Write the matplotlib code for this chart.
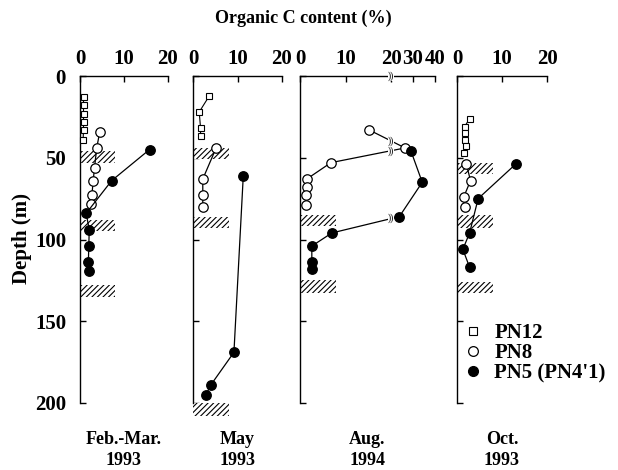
import numpy as np
import matplotlib
matplotlib.use("Agg")
import matplotlib.pyplot as plt
from matplotlib.lines import Line2D

plt.rcParams['font.family'] = ['Liberation Serif', 'DejaVu Serif']
plt.rcParams['font.weight'] = 'bold'
plt.rcParams['hatch.linewidth'] = 0.8

# ---------------- data ----------------
panel_titles = ["Feb.-Mar.\n1993", "May\n1993", "Aug.\n1994", "Oct.\n1993"]
series_names = ["PN12", "PN8", "PN5 (PN4'1)"]
depth_ticks = [0, 50, 100, 150, 200]

# Feb.-Mar. 1993
febmar_pn12_c = [0.8, 0.8, 0.8, 0.8, 0.8, 0.7]
febmar_pn12_d = [13, 18, 23, 28, 33, 39]
febmar_pn8_c = [4.5, 3.8, 3.3, 3.0, 2.7, 2.4]
febmar_pn8_d = [34, 44, 56, 64, 73, 78]
febmar_pn5_c = [15.8, 7.2, 1.4, 2.1, 2.0, 1.9, 2.1]
febmar_pn5_d = [45, 64, 84, 94, 104, 114, 119]
febmar_layers = [(46, 53), (88, 95), (128, 135)]

# May 1993
may_pn12_c = [3.7, 1.4, 1.7, 1.7]
may_pn12_d = [12, 22, 32, 37]
may_pn8_c = [5.2, 2.2, 2.2, 2.2]
may_pn8_d = [44, 63, 73, 80]
may_pn5_c = [11.3, 9.2, 4.0, 2.9]
may_pn5_d = [61, 169, 189, 195]
may_layers = [(44, 51), (86, 93), (200, 208)]

# Aug. 1994
aug_pn8_c = [15.2, 26.4, 6.8, 1.5, 1.5, 1.3, 1.3]
aug_pn8_d = [33, 44, 53, 63, 68, 73, 79]
aug_pn5_c = [29.1, 34.2, 23.8, 7.0, 2.6, 2.6, 2.6]
aug_pn5_d = [46, 65, 86, 96, 104, 114, 118]
aug_layers = [(85, 92), (125, 133)]

# Oct. 1993
oct_pn12_c = [2.8, 1.7, 1.7, 1.7, 1.9, 1.5]
oct_pn12_d = [26, 31, 35, 39, 43, 47]
oct_pn8_c = [2.1, 3.0, 1.5, 1.7]
oct_pn8_d = [54, 64, 74, 80]
oct_pn5_c = [13.0, 4.7, 2.8, 1.3, 2.8]
oct_pn5_d = [54, 75, 96, 106, 117]
oct_layers = [(53, 60), (85, 93), (126, 133)]

layer_width = 8
break_at = 20
break_ratio = 44 / 91

# ---------------- figure ----------------
W, H = 618, 470
fig = plt.figure(figsize=(W / 100, H / 100), dpi=100)

def px_axes(x0, x1, y0=76, y1=403):
    return fig.add_axes([x0 / W, 1 - y1 / H, (x1 - x0) / W, (y1 - y0) / H])

ax1 = px_axes(80, 168)
ax2 = px_axes(193, 282)
ax3 = px_axes(300, 435)
ax4 = px_axes(457, 547)
axes = [ax1, ax2, ax3, ax4]

def fwd(x):
    x = np.asarray(x, dtype=float)
    return np.where(x <= break_at, x, break_at + (x - break_at) * break_ratio)

def inv(y):
    y = np.asarray(y, dtype=float)
    return np.where(y <= break_at, y, break_at + (y - break_at) / break_ratio)

ax3.set_xscale('function', functions=(fwd, inv))

TFS = 15
for i, ax in enumerate(axes):
    ax.set_ylim(200, 0)
    if ax is ax3:
        ax.set_xlim(0, 40)
        ax.set_xticks([0, 10, 20, 30, 40])
    else:
        ax.set_xlim(0, 20)
        ax.set_xticks([0, 10, 20])
    ax.set_yticks(depth_ticks)
    ax.xaxis.tick_top()
    ax.spines['bottom'].set_visible(False)
    ax.spines['right'].set_visible(False)
    ax.spines['top'].set_linewidth(1.0)
    ax.spines['left'].set_linewidth(1.0)
    ax.tick_params(axis='x', direction='in', length=4, width=1, labelsize=TFS, pad=5)
    ax.tick_params(axis='y', direction='in', length=4, width=1, labelsize=TFS, pad=10)
    ax.set_xticklabels([str(t) for t in ax.get_xticks()], fontweight='bold')
    if i == 0:
        ax.set_yticklabels([str(t) for t in depth_ticks], fontweight='bold')
    else:
        ax.set_yticklabels([])
    ax.patch.set_alpha(0)

def draw_layers(ax, layers):
    for top, bot in layers:
        ax.barh((top + bot) / 2, layer_width, height=bot - top, left=0,
                color='white', edgecolor='black', hatch='//////', linewidth=0,
                clip_on=False, zorder=2)

def draw_series(ax, c, d, kind):
    if kind == 'sq':
        ax.plot(c, d, '-', color='black', lw=0.8, marker='s', ms=5,
                mfc='white', mec='black', mew=0.8, zorder=4, clip_on=False)
    elif kind == 'open':
        ax.plot(c, d, '-', color='black', lw=0.9, marker='o', ms=6.8,
                mfc='white', mec='black', mew=0.9, zorder=5, clip_on=False)
    else:
        ax.plot(c, d, '-', color='black', lw=0.9, marker='o', ms=6.8,
                mfc='black', mec='black', zorder=6, clip_on=False)

draw_layers(ax1, febmar_layers)
draw_series(ax1, febmar_pn12_c, febmar_pn12_d, 'sq')
draw_series(ax1, febmar_pn8_c, febmar_pn8_d, 'open')
draw_series(ax1, febmar_pn5_c, febmar_pn5_d, 'fill')

draw_layers(ax2, may_layers)
draw_series(ax2, may_pn12_c, may_pn12_d, 'sq')
draw_series(ax2, may_pn8_c, may_pn8_d, 'open')
draw_series(ax2, may_pn5_c, may_pn5_d, 'fill')

draw_layers(ax3, aug_layers)
draw_series(ax3, aug_pn8_c, aug_pn8_d, 'open')
draw_series(ax3, aug_pn5_c, aug_pn5_d, 'fill')

draw_layers(ax4, oct_layers)
draw_series(ax4, oct_pn12_c, oct_pn12_d, 'sq')
draw_series(ax4, oct_pn8_c, oct_pn8_d, 'open')
draw_series(ax4, oct_pn5_c, oct_pn5_d, 'fill')

# axis break marks on Aug. panel
def break_mark(ax, depth):
    ax.text(break_at, depth, '))', ha='center', va='center', fontsize=7,
            fontweight='normal', clip_on=False, zorder=7,
            bbox=dict(facecolor='white', edgecolor='none', pad=0.2))

break_mark(ax3, 0)
for c, d in [(aug_pn8_c, aug_pn8_d), (aug_pn5_c, aug_pn5_d)]:
    f = fwd(c)
    for k in range(len(c) - 1):
        if (c[k] - break_at) * (c[k + 1] - break_at) < 0:
            t = (break_at - f[k]) / (f[k + 1] - f[k])
            break_mark(ax3, d[k] + t * (d[k + 1] - d[k]))

# panel labels at bottom
for ax, title in zip(axes, panel_titles):
    ax.text(0.5, -0.085, title, transform=ax.transAxes, ha='center', va='top',
            fontsize=13, fontweight='bold', linespacing=1.35)

# titles
fig.text(303 / W, 1 - 18 / H, "Organic C content (%)", ha='center', va='center',
         fontsize=13, fontweight='bold')
fig.text(22 / W, 1 - 238 / H, "Depth (m)", ha='center', va='center',
         rotation=90, fontsize=15, fontweight='bold')

# legend
handles = [
    Line2D([], [], ls='none', marker='s', ms=5.5, mfc='white', mec='black', mew=0.8),
    Line2D([], [], ls='none', marker='o', ms=7, mfc='white', mec='black', mew=0.9),
    Line2D([], [], ls='none', marker='o', ms=7, mfc='black', mec='black'),
]
fig.legend(handles, series_names, loc='upper left',
           bbox_to_anchor=(463 / W, 1 - 323 / H), frameon=False,
           handlelength=1.0, handletextpad=0.5, labelspacing=0.0,
           borderpad=0, borderaxespad=0,
           prop={'family': 'Liberation Serif', 'weight': 'bold', 'size': 15})

fig.savefig("out.png", dpi=100)
